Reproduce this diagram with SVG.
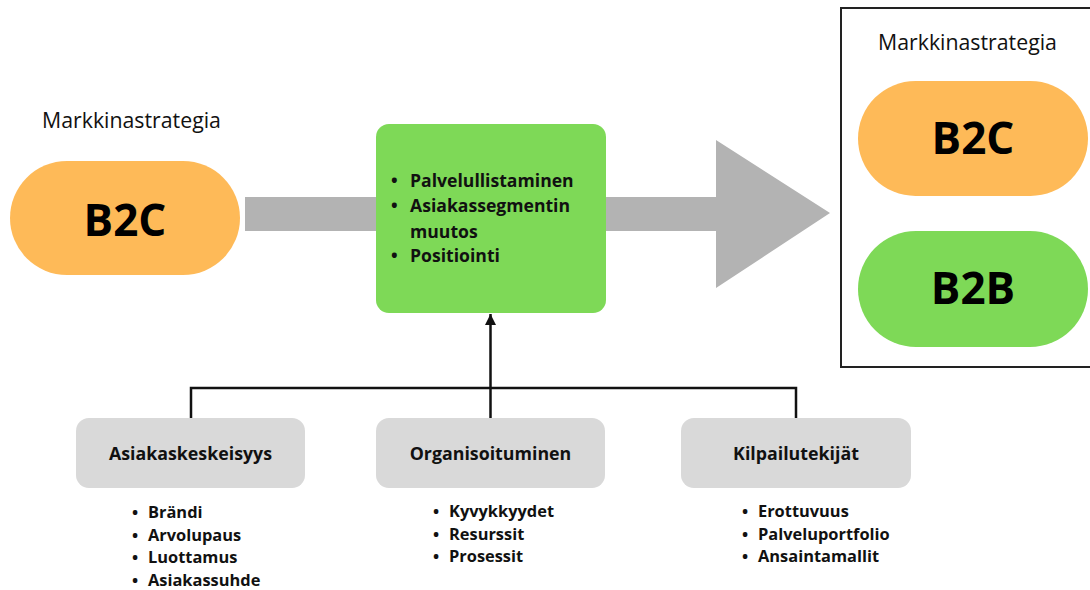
<svg xmlns="http://www.w3.org/2000/svg" width="1090" height="590" viewBox="0 0 1090 590">
<defs>
<style>
.title{font-family:"Open Sans","Noto Sans",sans-serif;font-size:21.3px;fill:#111}
.big{font-family:"Open Sans","Noto Sans",sans-serif;font-weight:bold;font-size:44px;fill:#000;text-anchor:middle}
.b16{font-family:"Open Sans","Noto Sans",sans-serif;font-weight:bold;font-size:17.6px;fill:#111}
.b15{font-family:"Open Sans","Noto Sans",sans-serif;font-weight:bold;font-size:16.4px;fill:#111}
.lbl{font-family:"Open Sans","Noto Sans",sans-serif;font-weight:bold;font-size:17.8px;fill:#111;text-anchor:middle}
.orange{fill:#FEBA58}
.green{fill:#7ED957}
.grey{fill:#D9D9D9}
.line{stroke:#111;stroke-width:2.5;fill:none}
</style>
<marker id="ah" viewBox="0 0 10 10" refX="10" refY="5" markerWidth="11" markerHeight="11" markerUnits="userSpaceOnUse" orient="auto">
<path d="M0,0 L10,5 L0,10 z" fill="#111"/>
</marker>
</defs>

<g id="connectors">
<path d="M245,197 H376 V231 H245 z" fill="#B3B3B3"/>
<path d="M606,197 H716 V140 L830,213 L716,288 V231 H606 z" fill="#B3B3B3"/>
<path class="line" d="M191,418 V388 H796 V418"/>
<path class="line" d="M490.5,418 V314" marker-end="url(#ah)"/>
</g>

<g id="left-strategy">
<text class="title" x="42" y="128">Markkinastrategia</text>
<rect class="orange" x="10" y="161" width="230" height="114" rx="57"/>
<text class="big" x="125" y="236">B2C</text>
</g>

<g id="change-box">
<rect class="green" x="376" y="124" width="230" height="189" rx="13"/>
<text class="b16"><tspan x="391" y="187">•</tspan><tspan x="410" y="187">Palvelullistaminen</tspan><tspan x="391" y="212">•</tspan><tspan x="410" y="212">Asiakassegmentin</tspan><tspan x="410" y="238">muutos</tspan><tspan x="391" y="262">•</tspan><tspan x="410" y="262">Positiointi</tspan></text>
</g>

<g id="right-strategy">
<rect x="841" y="8" width="260" height="359" fill="none" stroke="#222" stroke-width="2"/>
<text class="title" x="878" y="50">Markkinastrategia</text>
<g id="b2c-right">
<rect class="orange" x="858" y="81" width="230" height="115" rx="57.5"/>
<text class="big" x="973" y="154">B2C</text>
</g>
<g id="b2b-right">
<rect class="green" x="858" y="231" width="230" height="116" rx="58"/>
<text class="big" x="973" y="304">B2B</text>
</g>
</g>

<g id="asiakaskeskeisyys">
<rect class="grey" x="76" y="418" width="229" height="70" rx="13"/>
<text class="lbl" x="190.5" y="460">Asiakaskeskeisyys</text>
<text class="b15"><tspan x="132" y="518">•</tspan><tspan x="148" y="518">Brändi</tspan><tspan x="132" y="540.5">•</tspan><tspan x="148" y="540.5">Arvolupaus</tspan><tspan x="132" y="563">•</tspan><tspan x="148" y="563">Luottamus</tspan><tspan x="132" y="585.5">•</tspan><tspan x="148" y="585.5">Asiakassuhde</tspan></text>
</g>

<g id="organisoituminen">
<rect class="grey" x="376" y="418" width="229" height="70" rx="13"/>
<text class="lbl" x="490.5" y="460">Organisoituminen</text>
<text class="b15"><tspan x="433" y="517">•</tspan><tspan x="449" y="517">Kyvykkyydet</tspan><tspan x="433" y="539.5">•</tspan><tspan x="449" y="539.5">Resurssit</tspan><tspan x="433" y="562">•</tspan><tspan x="449" y="562">Prosessit</tspan></text>
</g>

<g id="kilpailutekijat">
<rect class="grey" x="681" y="418" width="230" height="70" rx="13"/>
<text class="lbl" x="796" y="460">Kilpailutekijät</text>
<text class="b15"><tspan x="742" y="517">•</tspan><tspan x="758" y="517">Erottuvuus</tspan><tspan x="742" y="539.5">•</tspan><tspan x="758" y="539.5">Palveluportfolio</tspan><tspan x="742" y="562">•</tspan><tspan x="758" y="562">Ansaintamallit</tspan></text>
</g>
</svg>
